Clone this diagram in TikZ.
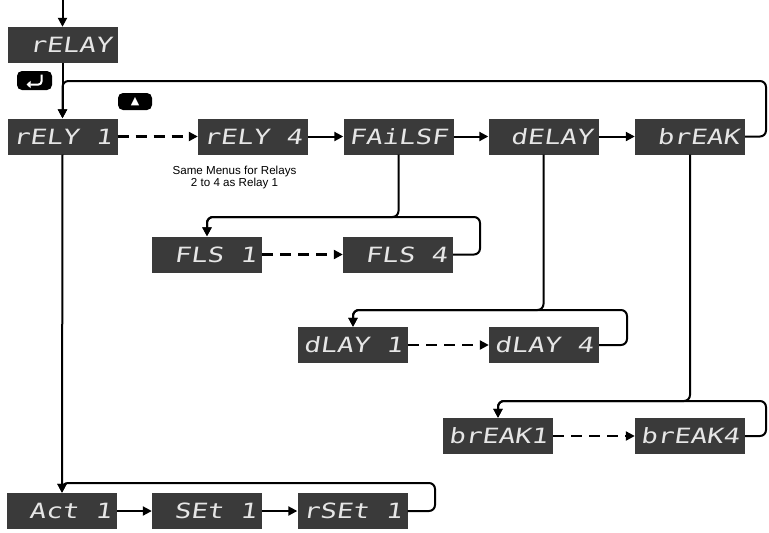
\documentclass[tikz,border=0pt]{standalone}
\usepackage{fontspec}
\setmainfont{Liberation Sans}
\newfontfamily\segfont{DejaVu Sans Mono}[FakeSlant=0.15,FakeStretch=1.3]
\newfontfamily\symfont{DejaVu Sans}
\usetikzlibrary{arrows.meta}
\definecolor{dispbg}{HTML}{3A3A3A}
\definecolor{disptxt}{HTML}{E6E6E6}
\tikzset{
  disp/.style={fill=dispbg, text=disptxt, minimum width=110pt, minimum height=36pt,
    inner sep=0pt, font=\segfont\fontsize{21}{21}\selectfont},
  keybox/.style={fill=black, rounded corners=5pt, inner sep=0pt},
  conn/.style={line width=2pt, rounded corners=6pt},
  arr/.style={conn, -{Triangle[length=9pt,width=9pt]}},
  darr/.style={line width=2.2pt, dash pattern=on 11pt off 7pt, -{Triangle[length=9pt,width=9pt]}},
}
\begin{document}
\begin{tikzpicture}[x=1pt,y=-1pt]
\useasboundingbox (0,0) rectangle (769,533);
% nodes
\node[disp] (relay)  at (62.5,45)  {~rELAY};
\node[disp] (rely1)  at (62.5,136.5) {rELY~1};
\node[disp] (rely4)  at (253,136.5)  {rELY~4};
\node[disp] (failsf) at (398.5,136.5) {FAiLSF};
\node[disp] (delay)  at (543.5,136.5) {~dELAY};
\node[disp] (break)  at (690,136.5)  {~brEAK};
\node[disp] (fls1)   at (207,254.5) {~FLS~1};
\node[disp] (fls4)   at (398,254.5) {~FLS~4};
\node[disp] (dlay1)  at (353,345) {dLAY~1};
\node[disp] (dlay4)  at (544,345) {dLAY~4};
\node[disp] (brk1)   at (498,436) {brEAK1};
\node[disp] (brk4)   at (690,436) {brEAK4};
\node[disp] (act1)   at (62,511) {~Act~1};
\node[disp] (set1)   at (207,511) {~SEt~1};
\node[disp] (rset1)  at (352.5,511) {rSEt~1};
\node[align=center, font=\fontsize{11.6}{12}\selectfont] (note) at (234.5,177.5)
  {Same Menus for Relays\\2 to 4 as Relay 1};
% key icons
\node[keybox, minimum width=35pt, minimum height=19pt] (enter) at (34.5,80.5) {};
\draw[white, line width=2pt, rounded corners=3pt, -{Triangle[length=4pt,width=7pt]}]
  ([xshift=7pt,yshift=6pt]enter.center) -- ([xshift=7pt,yshift=-4pt]enter.center)
  -- ([xshift=-8pt,yshift=-4pt]enter.center);
\node[keybox, minimum width=34pt, minimum height=17pt, text=white,
  font=\symfont\fontsize{11}{11}\selectfont] (up) at (135,101.5) {▲};
% coordinates
\coordinate (top) at (62.5,0);
\coordinate (loopA) at (766,81);
\coordinate (fA) at (480,217);
\coordinate (dA) at (627,310);
\coordinate (bA) at (766,401);
\coordinate (aA) at (435,483);
% connectors
\draw[arr] (top) -- (relay.north);
\draw[arr] (relay.south) -- (rely1.north);
\draw[arr] (break.east) -| (loopA) -| (rely1.north);
\draw[darr] (rely1.east) -- (rely4.west);
\draw[arr] (rely4.east) -- (failsf.west);
\draw[arr] (failsf.east) -- (delay.west);
\draw[arr] (delay.east) -- (break.west);
% FLS
\draw[arr] (failsf.south) |- (fA -| fls1.north) -- (fls1.north);
\draw[arr] (fls4.east) -| (fA) -| (fls1.north);
\draw[darr] (fls1.east) -- (fls4.west);
% dLAY
\draw[arr] (delay.south) |- (dA -| dlay1.north) -- (dlay1.north);
\draw[arr] (dlay4.east) -| (dA) -| (dlay1.north);
\draw[darr] (dlay1.east) -- (dlay4.west);
% brEAK
\draw[arr] (break.south) |- (bA -| brk1.north) -- (brk1.north);
\draw[arr] (brk4.east) -| (bA) -| (brk1.north);
\draw[darr] (brk1.east) -- (brk4.west);
% Act row
\draw[arr] (rely1.south) -- (act1.north);
\draw[arr] (rset1.east) -| (aA) -| (act1.north);
\draw[arr] (act1.east) -- (set1.west);
\draw[arr] (set1.east) -- (rset1.west);
\end{tikzpicture}
\end{document}
